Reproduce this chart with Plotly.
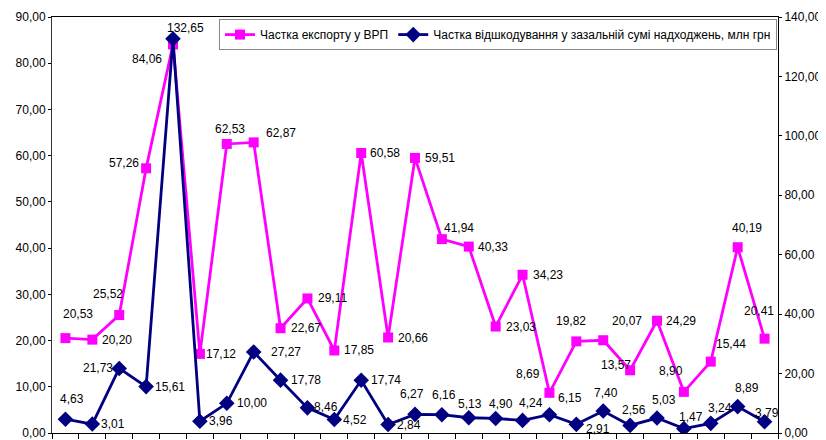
import plotly.graph_objects as go

# Data
categories = list(range(27))
export_share = [20.53, 20.20, 25.52, 57.26, 84.06, 17.12, 62.53, 62.87, 22.67, 29.11,
                17.85, 60.58, 20.66, 59.51, 41.94, 40.33, 23.03, 34.23, 8.69, 19.82,
                20.07, 13.57, 24.29, 8.90, 15.44, 40.19, 20.41]
compensation_share = [4.63, 3.01, 21.73, 15.61, 132.65, 3.96, 10.00, 27.27, 17.78, 8.46,
                      4.52, 17.74, 2.84, 6.27, 6.16, 5.13, 4.90, 4.24, 6.15, 2.91,
                      7.40, 2.56, 5.03, 1.47, 3.24, 8.89, 3.79]
name_export = "Частка експорту у ВРП"
name_comp = "Частка відшкодування у зазальній сумі надходжень, млн грн"
left_ticks = [0, 10, 20, 30, 40, 50, 60, 70, 80, 90]
right_ticks = [0, 20, 40, 60, 80, 100, 120, 140]

# Label offsets in pixels (dx right, dy down)
export_offsets = [(13, -24), (25, 0), (-11, -21), (-22, -5), (-26, 15), (21, 0), (3, -15),
                  (27, -9), (25, 0), (25, 0), (25, 0), (24, 0), (25, 0), (25, 0), (17, -11),
                  (24, 0), (25, 0), (25, 0), (-21, -19), (-5, -20), (24, -19), (-14, -5),
                  (24, 0), (-13, -21), (20, -18), (9, -19), (-6, -28)]
comp_offsets = [(7, -20), (21, 0), (-21, 0), (24, 0), (12, -11), (21, 0), (25, 0), (32, 0),
                (25, 0), (19, -1), (21, 0), (25, 0), (21, 0), (-3, -20), (2, -20), (1, -14),
                (5, -14), (8, -17), (21, -17), (22, 5), (3, -18), (4, -15), (7, -18),
                (7, -12), (9, -15), (9, -19), (2, -9)]

FONT = "Liberation Sans, Arial, sans-serif"
MAG = "#FF00FF"
NAVY = "#000080"

def fmt(v):
    return f"{v:.2f}".replace(".", ",")

fig = go.Figure()
fig.add_trace(go.Scatter(
    x=categories, y=export_share, name=name_export, mode="lines+markers",
    line=dict(color=MAG, width=2.8),
    marker=dict(symbol="square", size=10, color=MAG),
    yaxis="y", hoverinfo="skip"))
fig.add_trace(go.Scatter(
    x=categories, y=compensation_share, name=name_comp, mode="lines+markers",
    line=dict(color=NAVY, width=2.8),
    marker=dict(symbol="diamond", size=12, color=NAVY),
    yaxis="y2", hoverinfo="skip"))

annotations = []
for xv, v, (dx, dy) in zip(categories, export_share, export_offsets):
    annotations.append(dict(x=xv, y=v, xref="x", yref="y", text=fmt(v), showarrow=False,
                            xshift=dx, yshift=-dy, xanchor="center", yanchor="middle",
                            font=dict(family=FONT, size=12, color="#000")))
for xv, v, (dx, dy) in zip(categories, compensation_share, comp_offsets):
    annotations.append(dict(x=xv, y=v, xref="x", yref="y2", text=fmt(v), showarrow=False,
                            xshift=dx, yshift=-dy, xanchor="center", yanchor="middle",
                            font=dict(family=FONT, size=12, color="#000")))

boundaries = [c - 0.5 for c in categories] + [categories[-1] + 0.5]

# The page body has an 8px default margin, so the figure is sized and offset to compensate.
fig.update_layout(
    width=818, height=432,
    margin=dict(l=44, r=48, t=9, b=7, autoexpand=False),
    paper_bgcolor="white", plot_bgcolor="white",
    font=dict(family=FONT, size=12, color="#000"),
    separators=", ",
    showlegend=True,
    legend=dict(orientation="h", x=0.9986, y=0.995, xanchor="right", yanchor="top",
                bgcolor="white", bordercolor="#888", borderwidth=1,
                font=dict(family=FONT, size=12, color="#000"),
                itemwidth=30, tracegroupgap=0),
    xaxis=dict(range=[-0.5, 26.5], showgrid=False, zeroline=False, automargin=False,
               showline=True, linecolor="#000", linewidth=1, mirror=True,
               tickmode="array", tickvals=boundaries, showticklabels=False,
               ticks="outside", ticklen=5, tickcolor="#000"),
    yaxis=dict(range=[0, 90], tickvals=left_ticks, tickformat=".2f", automargin=False,
               ticklabeloverflow="allow",
               showgrid=False, zeroline=False, showline=True, linecolor="#333", linewidth=1,
               ticks="outside", ticklen=3, tickcolor="#000",
               tickfont=dict(family=FONT, size=12, color="#000")),
    yaxis2=dict(range=[0, 140], tickvals=right_ticks, tickformat=".2f", automargin=False,
                ticklabeloverflow="allow",
                overlaying="y", side="right",
                showgrid=False, zeroline=False, showline=True, linecolor="#000", linewidth=1,
                ticks="outside", ticklen=3, tickcolor="#000",
                tickfont=dict(family=FONT, size=12, color="#000")),
    annotations=annotations,
)

fig.write_html("out.html")
